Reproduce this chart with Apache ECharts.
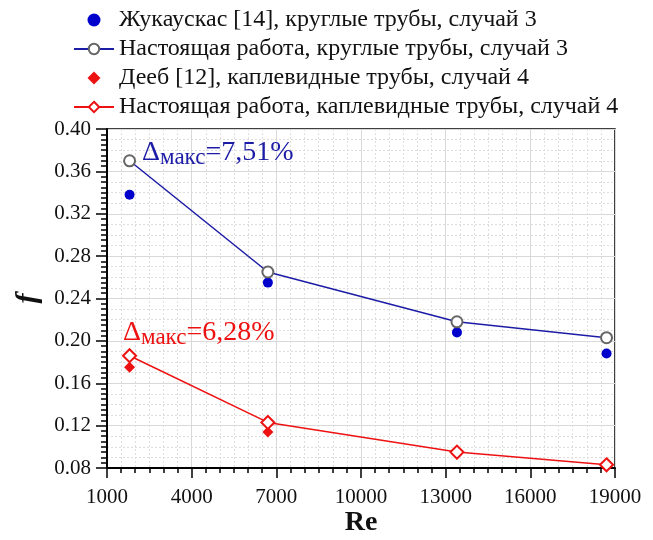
<!DOCTYPE html>
<html>
<head>
<meta charset="utf-8">
<script src="https://cdn.jsdelivr.net/npm/echarts@6/dist/echarts.min.js"></script>
<style>
  html, body { margin: 0; padding: 0; background: #fff; }
  #chart { width: 653px; height: 540px; }
</style>
</head>
<body>
<div id="chart"></div>
<script>
// Re values of the four cases
const reValues = [1800, 6700, 13400, 18700];
// f, experiment / present work
const zhukauskasF = [0.338, 0.255, 0.208, 0.188];
const presentRoundF = [0.370, 0.265, 0.218, 0.203];
const deebF = [0.175, 0.114, 0.093, 0.082];
const presentDropF = [0.186, 0.123, 0.095, 0.083];

const seriesNames = [
    "Жукаускас [14], круглые трубы, случай 3",
    "Настоящая работа, круглые трубы, случай 3",
    "Дееб [12], каплевидные трубы, случай 4",
    "Настоящая работа, каплевидные трубы, случай 4",
];
const deltaLabels = ["=7,51%", "=6,28%"];

const pairs = (ys) => reValues.map((x, i) => [x, ys[i]]);

const FONT = "Liberation Serif";
const BLUE = "#0000cc";
const BLUE_LINE = "#1c1ca6";
const RED = "#ee1111";

let myChart = echarts.init(document.getElementById("chart"));

const deltaRich = (color) => ({
    d: { fontSize: 28, fontFamily: FONT, fill: color, color: color, lineHeight: 30, verticalAlign: "top" },
    s: { fontSize: 23, fontFamily: FONT, fill: color, color: color, lineHeight: 23, verticalAlign: "bottom", padding: [14, 0, 0, 0] },
});

let option = {
    backgroundColor: "#fff",
    animation: false,
    legend: {
        orient: "vertical",
        left: 68,
        top: 3,
        itemWidth: 40,
        itemHeight: 13,
        itemGap: 5,
        textStyle: { fontFamily: FONT, fontSize: 24, lineHeight: 24, color: "#111" },
        data: [
            { name: seriesNames[0], icon: "circle" },
            { name: seriesNames[1] },
            { name: seriesNames[2], icon: "path://M0,-1L1,0L0,1L-1,0Z" },
            { name: seriesNames[3] },
        ],
    },
    grid: {
        left: 107,
        right: 38,
        top: 129,
        bottom: 72,
        outerBoundsMode: "none",
        show: true,
        borderColor: "#000",
        borderWidth: 1.5,
        backgroundColor: "transparent",
    },
    xAxis: {
        type: "value",
        min: 1000,
        max: 19000,
        interval: 3000,
        name: "Re",
        nameLocation: "middle",
        nameGap: 41,
        nameMoveOverlap: false,
        nameTextStyle: { fontFamily: FONT, fontSize: 28, fontWeight: "bold", color: "#111" },
        axisLine: { lineStyle: { color: "#000", width: 2 } },
        axisTick: { length: 10, lineStyle: { color: "#000", width: 1.5 } },
        minorTick: { show: true, splitNumber: 6, length: 5, lineStyle: { color: "#000", width: 1.5 } },
        splitLine: { show: true, lineStyle: { color: "#d9d9d9", width: 1 } },
        minorSplitLine: { show: true, lineStyle: { color: "#dedede", width: 1, type: [2, 2] } },
        axisLabel: { fontFamily: FONT, fontSize: 21, color: "#111", margin: 19, formatter: (v) => String(v) },
    },
    yAxis: [
        {
            type: "value",
            min: 0.08,
            max: 0.40,
            interval: 0.04,
            name: "f",
            nameLocation: "middle",
            nameGap: 54,
            nameRotate: 90,
            nameTextStyle: { fontFamily: FONT, fontSize: 30, fontWeight: "bold", fontStyle: "italic", color: "#111" },
            axisLine: { show: true, lineStyle: { color: "#000", width: 2 } },
            axisTick: { show: true, length: 11, lineStyle: { color: "#000", width: 1.5 } },
            minorTick: { show: true, splitNumber: 8, length: 6, lineStyle: { color: "#000", width: 1.5 } },
            splitLine: { show: true, lineStyle: { color: "#d9d9d9", width: 1 } },
            axisLabel: {
                fontFamily: FONT, fontSize: 21, color: "#111", margin: 16,
                formatter: (v) => v.toFixed(2),
            },
        },
        {
            // only carries the dotted fine grid (every 0.01)
            type: "value",
            min: 0.08,
            max: 0.40,
            interval: 0.04,
            axisLine: { show: false },
            axisTick: { show: false },
            axisLabel: { show: false },
            splitLine: { show: false },
            minorTick: { show: false, splitNumber: 4 },
            minorSplitLine: { show: true, lineStyle: { color: "#dedede", width: 1, type: [2, 2] } },
        },
    ],
    graphic: [
        {
            type: "text",
            left: 142,
            top: 132,
            z: 100,
            style: {
                text: "{d|Δ}{s|макс}{d|" + deltaLabels[0] + "}",
                rich: deltaRich(BLUE_LINE),
            },
        },
        {
            type: "text",
            left: 123,
            top: 312,
            z: 100,
            style: {
                text: "{d|Δ}{s|макс}{d|" + deltaLabels[1] + "}",
                rich: deltaRich(RED),
            },
        },
    ],
    series: [
        {
            name: seriesNames[0],
            type: "scatter",
            symbol: "circle",
            symbolSize: 10,
            itemStyle: { color: BLUE, opacity: 1 },
            data: pairs(zhukauskasF),
            z: 3,
        },
        {
            name: seriesNames[1],
            type: "line",
            symbol: "emptyCircle",
            symbolSize: 11,
            lineStyle: { color: BLUE_LINE, width: 1.5 },
            itemStyle: { color: "#666", borderColor: "#666", borderWidth: 1.5 },
            data: pairs(presentRoundF),
            z: 4,
        },
        {
            name: seriesNames[2],
            type: "scatter",
            symbol: "diamond",
            symbolSize: 11,
            itemStyle: { color: RED, opacity: 1 },
            data: pairs(deebF),
            z: 3,
        },
        {
            name: seriesNames[3],
            type: "line",
            symbol: "emptyDiamond",
            symbolSize: 13,
            lineStyle: { color: RED, width: 1.5 },
            itemStyle: { color: RED, borderColor: RED, borderWidth: 1.5 },
            data: pairs(presentDropF),
            z: 4,
        },
    ],
};

option && myChart.setOption(option);
</script>
</body>
</html>
